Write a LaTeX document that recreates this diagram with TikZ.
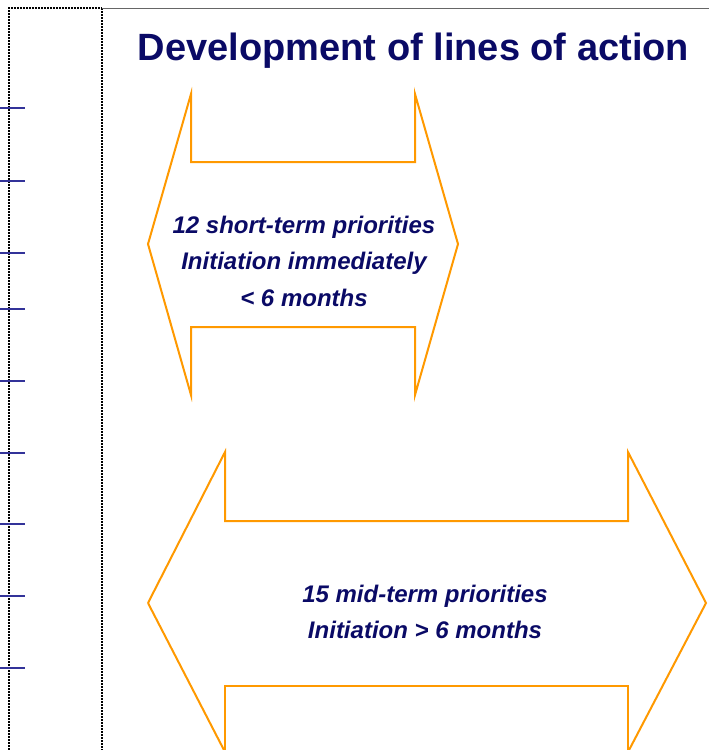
\documentclass[tikz,border=0pt]{standalone}
\usepackage{fontspec}
\setmainfont{Liberation Sans}
\definecolor{navytext}{HTML}{0A0A66}
\definecolor{tickblue}{HTML}{333399}
\definecolor{arroworange}{HTML}{FF9900}
\begin{document}
\begin{tikzpicture}[x=1pt,y=-1pt,
  dotline/.style={line width=2pt,dash pattern=on 1.6pt off 1.4pt},
  tickline/.style={tickblue,line width=2.2pt},
  dblarrow/.style={arroworange,line width=2pt,line join=miter},
  bodytext/.style={text=navytext,font=\fontsize{24}{36.5}\selectfont\bfseries\itshape,align=center},
  titletext/.style={text=navytext,font=\fontsize{38}{40}\selectfont\bfseries}]
\useasboundingbox (0,0) rectangle (709,750);
% frame lines
\draw[dotline] (9,750) -- (9,8) -- (102,8);
\draw[dotline] (102,8) -- (102,750);
\draw[gray!80!black,line width=1.2pt] (102,8.5) -- (709,8.5);
% ticks
\foreach \ty in {108,181,253,309,381,453,524,596,668}
  \draw[tickline] (0,\ty) -- (25,\ty);
% title
\node[titletext] (title) at (413.5,51) {Development of lines of action};
% arrow 1
\draw[dblarrow] (148,244) -- (191,94) -- (191,162) -- (415,162) -- (415,94) -- (458,244)
  -- (415,395) -- (415,327) -- (191,327) -- (191,395) -- cycle;
\node[bodytext] (short) at (304,261) {12 short-term priorities\\Initiation immediately\\{<} 6 months};
% arrow 2
\draw[dblarrow] (148,603) -- (225,452) -- (225,521) -- (628,521) -- (628,452) -- (706,603)
  -- (628,752) (225,752) -- (148,603);
\draw[dblarrow] (628,752) -- (628,686) -- (225,686) -- (225,752);
\node[bodytext] (mid) at (425,612) {15 mid-term priorities\\Initiation {>} 6 months};
\end{tikzpicture}
\end{document}
